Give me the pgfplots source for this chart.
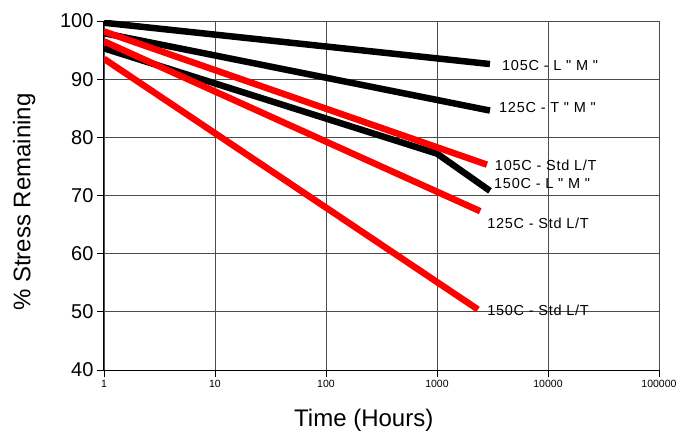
\documentclass[border=0pt]{standalone}
\usepackage{fontspec}
\setmainfont{Liberation Sans}
\newfontfamily\lblfont{Liberation Sans}[Ligatures=TeXOff, LetterSpace=5]
\usepackage{pgfplots}
\pgfplotsset{compat=1.18}
\definecolor{lred}{RGB}{255,0,0}

\begin{document}
\begin{tikzpicture}
\begin{axis}[
  name=main,
  scale only axis, width=555pt, height=349pt,
  xmode=log, xmin=1, xmax=100000, ymin=40, ymax=100,
  xtick={1,10,100,1000,10000,100000},
  xticklabels={1,10,100,1000,10000,100000},
  xminorticks=false,
  ytick={40,50,...,100},
  axis x line*=bottom, axis y line*=left,
  axis line style={-, black, line width=1pt},
  grid=major, major grid style={black!70, line width=0.8pt},
  tick align=outside, tick style={black, line width=0.8pt},
  major tick length=7pt,
  /pgf/number format/assume math mode=true,
  yticklabel style={font=\fontsize{20}{24}\selectfont},
  xticklabel style={font=\fontsize{10.5}{12}\selectfont},
  xlabel={Time (Hours)}, ylabel={\% Stress Remaining},
  label style={font=\fontsize{24}{28}\selectfont},
  xlabel style={at={(axis description cs:0.468,-0.143)}, anchor=center},
  ylabel style={at={(axis description cs:-0.144,0.481)}, anchor=center},
  every axis plot/.append style={line width=6.5pt, line cap=butt, no markers},
]
% black series
\addplot[black] coordinates {(1,99.7) (3000,92.6)};
\addplot[black] coordinates {(1,97.9) (3000,84.6)};
\addplot[black] coordinates {(1,95.3) (1000,77.2) (3000,70.8)};
% red series
\addplot[lred] coordinates {(1,98.2) (2820,75.3)};
\addplot[lred] coordinates {(1,96.5) (2450,67.3)};
\addplot[lred] coordinates {(1,93.5) (2340,50.4)};

\begin{scope}[every node/.style={anchor=west, inner sep=0pt, font=\lblfont\fontsize{14.5}{17}\selectfont}]
\node at (axis cs:3853,92.4) {105C - L " M "};
\node at (axis cs:3620,85.2) {125C - T " M "};
\node at (axis cs:3316,75.2) {105C - Std L/T};
\node at (axis cs:3264,72.1) {150C - L " M "};
\node at (axis cs:2827,65.3) {125C - Std L/T};
\node at (axis cs:2827,50.3) {150C - Std L/T};
\end{scope}
\end{axis}
\pgfresetboundingbox
\path[use as bounding box] ([xshift=-104pt,yshift=-64pt]main.south west) rectangle ([xshift=30pt,yshift=21pt]main.north east);
\end{tikzpicture}
\end{document}
